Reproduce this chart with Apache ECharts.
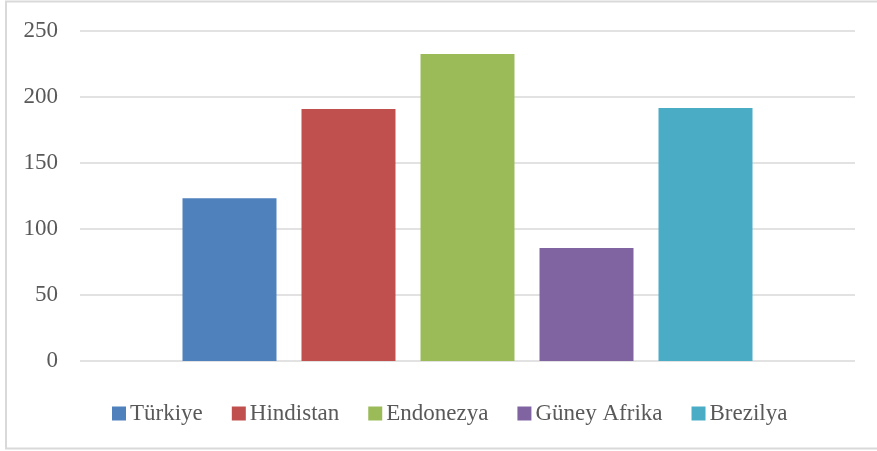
<!DOCTYPE html>
<html>
<head>
<meta charset="utf-8">
<script src="https://cdn.jsdelivr.net/npm/echarts@6/dist/echarts.min.js"></script>
<style>
html,body{margin:0;padding:0;background:#fff;}
#chart{width:877px;height:451px;}
</style>
</head>
<body>
<div id="chart"></div>
<script>
const categories = [''];
const seriesNames = ['Türkiye', 'Hindistan', 'Endonezya', 'Güney Afrika', 'Brezilya'];
const seriesValues = [123.3, 190.9, 232.6, 85.6, 191.7];
const seriesColors = ['#4F81BD', '#C0504D', '#9BBB59', '#8064A2', '#4BACC6'];
const yTicks = [0, 50, 100, 150, 200, 250];

const chart = echarts.init(document.getElementById('chart'));
const font = '"Liberation Serif", "Times New Roman", serif';
chart.setOption({
  animation: false,
  backgroundColor: '#fff',
  graphic: [{
    type: 'rect',
    shape: { x: 6, y: 1.5, width: 890, height: 447 },
    style: { fill: 'none', stroke: '#d9d9d9', lineWidth: 2 },
    silent: true
  }],
  grid: { left: 80, right: 22, top: 31, bottom: 90, containLabel: false },
  legend: {
    data: seriesNames,
    left: 107,
    top: 397,
    itemWidth: 14,
    itemHeight: 14,
    itemGap: 29,
    icon: 'rect',
    textStyle: { fontFamily: font, fontSize: 23, color: '#595959', padding: [0, 0, 0, -1] }
  },
  xAxis: {
    type: 'category',
    data: categories,
    axisLine: { show: false },
    axisTick: { show: false },
    axisLabel: { show: false }
  },
  yAxis: {
    type: 'value',
    min: yTicks[0],
    max: yTicks[yTicks.length - 1],
    interval: 50,
    axisLine: { show: false },
    axisTick: { show: false },
    axisLabel: { fontFamily: font, fontSize: 23, color: '#595959', margin: 22 },
    splitLine: { lineStyle: { color: '#d9d9d9', width: 1.5 } }
  },
  series: seriesNames.map((name, i) => ({
    name: name,
    type: 'bar',
    data: [seriesValues[i]],
    barWidth: 94,
    barGap: '26.6%',
    itemStyle: { color: seriesColors[i] }
  }))
});
</script>
</body>
</html>
